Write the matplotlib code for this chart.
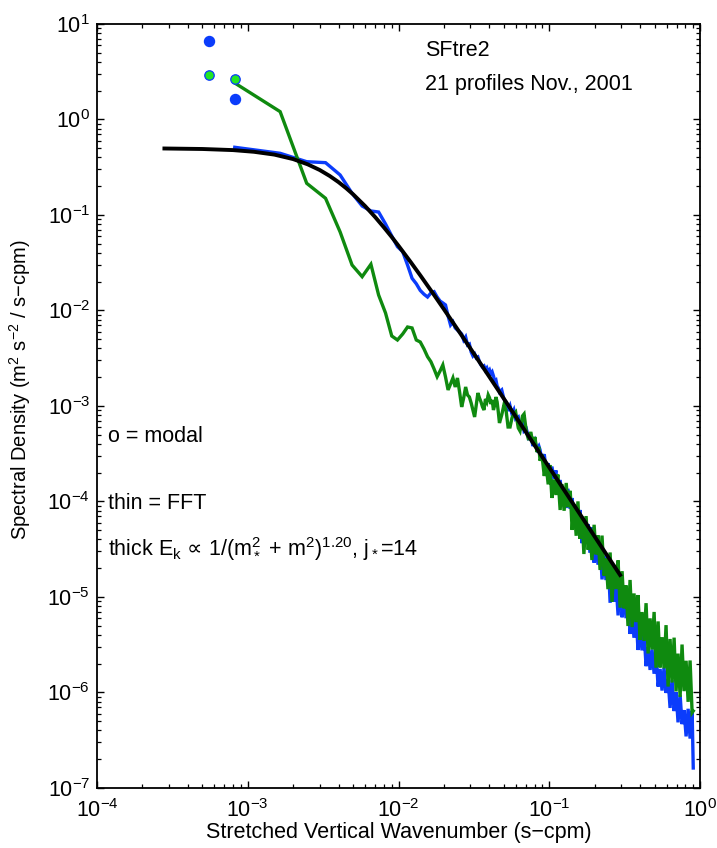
import matplotlib
matplotlib.use('Agg')
import matplotlib.pyplot as plt
import numpy as np

plt.rcParams['font.family'] = ['Liberation Sans', 'DejaVu Sans']
plt.rcParams['mathtext.fontset'] = 'custom'
plt.rcParams['mathtext.rm'] = 'Liberation Sans'
plt.rcParams['mathtext.it'] = 'Liberation Sans:italic'
plt.rcParams['mathtext.bf'] = 'Liberation Sans:bold'
plt.rcParams['mathtext.sf'] = 'DejaVu Sans'

# ---------------- data ----------------
dk = 0.00082  # FFT wavenumber spacing (s-cpm)

# FFT mode numbers (decimated at high wavenumber)
mode_low = list(range(1, 58))
mode_mid = [59, 61, 63, 65, 67, 69, 71, 73, 76, 78, 81, 83, 86, 89, 92, 95, 98, 101, 104]
mode_band = [106, 109, 113, 116, 120, 123, 127, 131, 135, 139,
             144, 148, 153, 158, 162, 168, 173, 178, 184, 189,
             195, 201, 207, 214, 221, 227, 234, 242, 249, 257,
             265, 273, 282, 290, 299, 309, 318, 328, 338, 349,
             360, 371, 382, 394, 406, 419, 432, 445, 459, 473,
             488, 503, 519, 535, 552, 569, 586, 605, 623, 643,
             663, 683, 704, 726, 749, 772, 796, 821, 846, 872,
             900, 927, 956, 986, 1017, 1048, 1081]
mode_last = [1100]

# log10 spectral density, blue FFT
blue_low = [-0.291, -0.354, -0.442, -0.452, -0.581, -0.773, -0.906, -0.958, -0.969, -1.094,
            -1.220, -1.332, -1.384, -1.524, -1.663, -1.720, -1.790, -1.830, -1.859, -1.817,
            -1.803, -1.859, -1.901, -1.921, -1.942, -2.058, -2.152, -2.120, -2.183, -2.204,
            -2.225, -2.246, -2.309, -2.277, -2.361, -2.351, -2.435, -2.476, -2.455, -2.497,
            -2.487, -2.539, -2.571, -2.592, -2.581, -2.623, -2.602, -2.644, -2.623, -2.665,
            -2.644, -2.686, -2.738, -2.728, -2.791, -2.812, -2.853]
blue_mid = [-2.832, -2.927, -2.958, -3.052, -3.000, -3.084, -3.042, -3.136, -3.115, -3.199,
            -3.157, -3.262, -3.241, -3.335, -3.314, -3.419, -3.366, -3.450, -3.419]
blue_band = [-3.461, -3.572, -3.505, -3.658, -3.600, -3.737, -3.635, -3.763, -3.674, -3.909,
             -3.775, -3.962, -3.890, -4.068, -3.867, -4.076, -3.964, -4.239, -4.101, -4.292,
             -4.089, -4.437, -4.213, -4.373, -4.240, -4.537, -4.269, -4.642, -4.456, -4.662,
             -4.421, -4.816, -4.567, -4.823, -4.571, -5.061, -4.719, -5.048, -4.858, -5.193,
             -4.801, -5.213, -4.966, -5.222, -4.988, -5.387, -5.178, -5.427, -5.186, -5.555,
             -5.351, -5.559, -5.375, -5.725, -5.525, -5.764, -5.549, -5.804, -5.589, -5.938,
             -5.754, -5.980, -5.742, -6.005, -5.860, -6.162, -5.867, -6.195, -5.998, -6.313,
             -6.026, -6.332, -6.185, -6.460, -6.171, -6.483, -6.190]
blue_last = [-6.791]

# log10 spectral density, green FFT
green_low = [0.382, 0.082, -0.668, -0.825, -1.178, -1.524, -1.646, -1.516, -1.838, -2.026,
             -2.267, -2.309, -2.246, -2.173, -2.183, -2.309, -2.330, -2.403, -2.484, -2.536,
             -2.613, -2.693, -2.634, -2.571, -2.696, -2.832, -2.770, -2.707, -2.801, -2.707,
             -2.853, -3.010, -2.916, -2.801, -2.885, -2.906, -2.969, -3.042, -3.115, -2.990,
             -2.864, -2.916, -2.958, -3.010, -3.042, -2.927, -2.958, -2.885, -2.916, -2.979,
             -2.937, -3.042, -2.990, -2.906, -2.958, -3.063, -3.178]
green_mid = [-3.094, -2.990, -3.042, -3.220, -3.220, -3.126, -3.084, -3.063, -3.230, -3.262,
             -3.105, -3.084, -3.272, -3.356, -3.272, -3.398, -3.325, -3.482, -3.429]
green_band = [-3.574, -3.509, -3.733, -3.605, -3.821, -3.618, -3.963, -3.770, -3.932, -3.718,
              -4.089, -3.818, -4.097, -3.806, -4.060, -3.888, -4.298, -4.030, -4.359, -3.999,
              -4.391, -4.160, -4.550, -4.153, -4.506, -4.319, -4.613, -4.244, -4.554, -4.355,
              -4.717, -4.357, -4.776, -4.598, -4.918, -4.534, -5.052, -4.665, -4.917, -4.617,
              -5.112, -4.730, -5.119, -4.879, -5.304, -4.822, -5.315, -4.963, -5.263, -4.980,
              -5.450, -5.158, -5.460, -5.065, -5.592, -5.224, -5.550, -5.157, -5.741, -5.256,
              -5.738, -5.421, -5.748, -5.295, -5.938, -5.440, -5.896, -5.426, -5.989, -5.593,
              -6.047, -5.498, -5.986, -5.668, -6.098, -5.665, -6.211]
green_last = [-6.194]

# modal estimates
modal_k = [5.5e-4, 8.2e-4]
modal_blue = [6.7, 1.63]
modal_green = [2.94, 2.66]

# thick model fit curve
fit_k = [2.8e-4, 5e-4, 8e-4, 1.1e-3, 1.5e-3, 2e-3, 2.5e-3, 3e-3, 3.5e-3, 4e-3,
         4.5e-3, 5e-3, 6e-3, 7e-3, 8e-3, 9e-3, 0.01, 0.012, 0.014, 0.017,
         0.02, 0.025, 0.03, 0.04, 0.05, 0.065, 0.08, 0.1, 0.13, 0.17, 0.22, 0.295]
fit_E = [0.497, 0.491, 0.478, 0.459, 0.429, 0.385, 0.339, 0.296, 0.256, 0.221,
         0.1905, 0.1646, 0.1241, 0.0951, 0.0742, 0.0590, 0.0476, 0.0324, 0.02314, 0.01497,
         0.01031, 0.00614, 0.00400, 0.002026, 0.001191, 6.37e-4, 3.87e-4, 2.27e-4, 1.21e-4,
         6.35e-5, 3.42e-5, 1.7e-5]

# ---------------- plot ----------------
modes = np.array(mode_low + mode_mid + mode_band + mode_last)
k = modes * dk
E_blue = 10.0 ** np.array(blue_low + blue_mid + blue_band + blue_last)
E_green = 10.0 ** np.array(green_low + green_mid + green_band + green_last)

BLUE = '#0b3cfb'
GREEN = '#0f8a0f'
LIME = '#22e622'

fig = plt.figure(figsize=(7.17, 8.48), dpi=100)
ax = fig.add_axes([0.1353, 0.0708, 0.841, 0.9009])

ax.plot(k, E_blue, color=BLUE, lw=2.4, solid_joinstyle='miter', zorder=2)
ax.plot(k, E_green, color=GREEN, lw=2.4, solid_joinstyle='miter', zorder=3)
ax.plot(fit_k, fit_E, color='black', lw=2.8, zorder=4)
ax.plot(modal_k, modal_blue, 'o', ms=7.2, color=BLUE, mec=BLUE, zorder=5)
ax.plot(modal_k, modal_green, 'o', ms=6.8, color=LIME, mec=BLUE, mew=0.9, zorder=5)

ax.set_xscale('log')
ax.set_yscale('log')
ax.set_xlim(1e-4, 1)
ax.set_ylim(1e-7, 10)

ax.tick_params(which='both', direction='in', top=True, right=True, labelsize=15.5)
ax.tick_params(which='major', length=5, width=1)
ax.tick_params(which='minor', length=3, width=0.9)
ax.tick_params(axis='x', pad=8)
ax.tick_params(axis='y', pad=5)
for s in ax.spines.values():
    s.set_linewidth(1.3)

ax.set_xlabel('Stretched Vertical Wavenumber (s\u2212cpm)', fontsize=15.5, labelpad=0)
ax.set_ylabel('Spectral Density (m$^2$ s$^{\u22122}$ / s\u2212cpm)', fontsize=14.5)
ax.yaxis.set_label_coords(-0.106, 0.521)

fs = 15.5
ax.text(0.544, 0.9655, 'SFtre2', transform=ax.transAxes, fontsize=fs, ha='left', va='center')
ax.text(0.544, 0.921, '21 profiles Nov., 2001', transform=ax.transAxes, fontsize=fs, ha='left', va='center')
ax.text(0.018, 0.460, 'o = modal', transform=ax.transAxes, fontsize=fs, ha='left', va='center')
ax.text(0.018, 0.372, 'thin = FFT', transform=ax.transAxes, fontsize=fs, ha='left', va='center')
ax.text(0.018, 0.313, 'thick E$_\\mathrm{k}$ $\\mathsf{\u221d}$ 1/(m$_*^2$ + m$^2$)$^{1.20}$, j$_*$=14',
        transform=ax.transAxes, fontsize=fs, ha='left', va='center')

fig.savefig('out.png', dpi=100)
